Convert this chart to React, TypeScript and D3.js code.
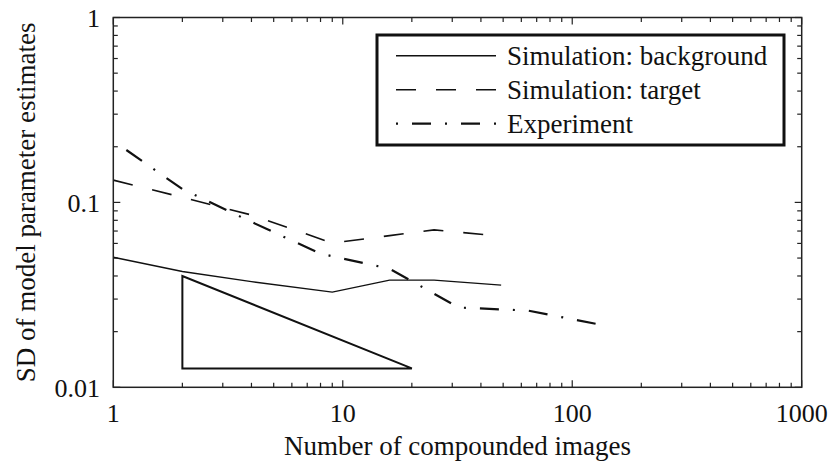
import React from "react";
import * as d3 from "d3";

// Simulation: background (solid)
const backgroundX = [1, 2, 4, 9, 16, 25, 49];
const backgroundY = [0.0505, 0.0423, 0.0373, 0.0327, 0.038, 0.038, 0.0357];

// Simulation: target (dashed)
const targetX = [1, 2, 4, 9, 16, 25, 49];
const targetY = [0.132, 0.1065, 0.0855, 0.0603, 0.0661, 0.071, 0.0656];

// Experiment (dash-dot)
const experimentX = [1.14, 2, 4, 8, 16, 32, 64, 128];
const experimentY = [0.192, 0.118, 0.0784, 0.0528, 0.0438, 0.027, 0.026, 0.022];

// Slope reference triangle (slope -1/2 on log-log axes)
const triangleX = [2, 2, 20];
const triangleY = [0.04, 0.04 / Math.sqrt(10), 0.04 / Math.sqrt(10)];

const xTickValues = [1, 10, 100, 1000];
const xTickLabels = ["1", "10", "100", "1000"];
const yTickValues = [0.01, 0.1, 1];
const yTickLabels = ["0.01", "0.1", "1"];

const legendLabels = ["Simulation: background", "Simulation: target", "Experiment"];

const xTitle = "Number of compounded images";
const yTitle = "SD of model parameter estimates";

const W = 834;
const H = 466;
const FONT = "'Liberation Serif', 'Times New Roman', serif";
const INK = "#111";

export default function App() {
  const x = d3.scaleLog().domain([1, 1000]).range([113.3, 801.7]);
  const y = d3.scaleLog().domain([0.01, 1]).range([387.3, 17.5]);
  const [x0, x1] = x.range();
  const [y0, y1] = y.range();

  const line = d3
    .line<[number, number]>()
    .x((d) => x(d[0]))
    .y((d) => y(d[1]));

  const zip = (xs: number[], ys: number[]) =>
    xs.map((v, i) => [v, ys[i]] as [number, number]);

  // minor ticks for each decade
  const minorX: number[] = [];
  for (const dec of [1, 10, 100]) for (let k = 2; k <= 9; k++) minorX.push(dec * k);
  const minorY: number[] = [];
  for (const dec of [0.01, 0.1]) for (let k = 2; k <= 9; k++) minorY.push(dec * k);

  const majorLen = 7;
  const minorLen = 4.5;
  const tickStroke = { stroke: "#222", strokeWidth: 1.2 };

  const dashTarget = "20 20";
  const dashExp = "19 14 2 14";

  const legendRows = [
    { label: legendLabels[0], dash: undefined as string | undefined, width: 1.4, offset: 0 },
    { label: legendLabels[1], dash: dashTarget, width: 1.6, offset: 0 },
    { label: legendLabels[2], dash: dashExp, width: 2.2, offset: 33 },
  ];

  return (
    <svg
      width={W}
      height={H}
      style={{ position: "absolute", left: 0, top: 0, background: "#fff" }}
      fontFamily={FONT}
    >
      <rect x={0} y={0} width={W} height={H} fill="#fff" />

      {/* ticks: bottom/top for x, left/right for y, pointing inward */}
      <g>
        {xTickValues.map((v) => (
          <g key={"xM" + v}>
            <line x1={x(v)} x2={x(v)} y1={y0} y2={y0 - majorLen} {...tickStroke} />
            <line x1={x(v)} x2={x(v)} y1={y1} y2={y1 + majorLen} {...tickStroke} />
          </g>
        ))}
        {minorX.map((v) => (
          <g key={"xm" + v}>
            <line x1={x(v)} x2={x(v)} y1={y0} y2={y0 - minorLen} {...tickStroke} />
            <line x1={x(v)} x2={x(v)} y1={y1} y2={y1 + minorLen} {...tickStroke} />
          </g>
        ))}
        {yTickValues.map((v) => (
          <g key={"yM" + v}>
            <line x1={x0} x2={x0 + majorLen} y1={y(v)} y2={y(v)} {...tickStroke} />
            <line x1={x1} x2={x1 - majorLen} y1={y(v)} y2={y(v)} {...tickStroke} />
          </g>
        ))}
        {minorY.map((v) => (
          <g key={"ym" + v}>
            <line x1={x0} x2={x0 + minorLen} y1={y(v)} y2={y(v)} {...tickStroke} />
            <line x1={x1} x2={x1 - minorLen} y1={y(v)} y2={y(v)} {...tickStroke} />
          </g>
        ))}
      </g>

      {/* data series */}
      <path
        d={line(zip(backgroundX, backgroundY)) || ""}
        fill="none"
        stroke={INK}
        strokeWidth={1.4}
      />
      <path
        d={line(zip(targetX, targetY)) || ""}
        fill="none"
        stroke={INK}
        strokeWidth={1.6}
        strokeDasharray={dashTarget}
      />
      <path
        d={line(zip(experimentX, experimentY)) || ""}
        fill="none"
        stroke={INK}
        strokeWidth={2.2}
        strokeDasharray={dashExp}
      />

      {/* slope triangle */}
      <path
        d={(line(zip(triangleX, triangleY)) || "") + "Z"}
        fill="none"
        stroke={INK}
        strokeWidth={2}
        strokeLinejoin="miter"
      />

      {/* frame */}
      <rect
        x={x0}
        y={y1}
        width={x1 - x0}
        height={y0 - y1}
        fill="none"
        stroke="#222"
        strokeWidth={1.5}
      />

      {/* tick labels */}
      {xTickValues.map((v, i) => (
        <text
          key={"xl" + v}
          x={x(v)}
          y={422}
          textAnchor="middle"
          fontSize={26}
          fill={INK}
        >
          {xTickLabels[i]}
        </text>
      ))}
      {yTickValues.map((v, i) => (
        <text
          key={"yl" + v}
          x={100}
          y={y(v) + 9.5}
          textAnchor="end"
          fontSize={26}
          fill={INK}
        >
          {yTickLabels[i]}
        </text>
      ))}

      {/* axis titles */}
      <text x={(x0 + x1) / 2} y={455} textAnchor="middle" fontSize={27} fill={INK}>
        {xTitle}
      </text>
      <text
        transform={`translate(35, ${(y0 + y1) / 2}) rotate(-90)`}
        textAnchor="middle"
        fontSize={27}
        fill={INK}
      >
        {yTitle}
      </text>

      {/* legend */}
      <g>
        <rect x={377} y={35} width={407} height={110} fill="#fff" stroke={INK} strokeWidth={3} />
        {legendRows.map((r, i) => {
          const ly = 55.7 + i * 34;
          return (
            <g key={r.label}>
              <line
                x1={396}
                x2={496}
                y1={ly}
                y2={ly}
                stroke={INK}
                strokeWidth={r.width}
                strokeDasharray={r.dash}
                strokeDashoffset={r.offset}
              />
              <text x={507} y={ly + 9.5} fontSize={27} fill={INK}>
                {r.label}
              </text>
            </g>
          );
        })}
      </g>
    </svg>
  );
}
